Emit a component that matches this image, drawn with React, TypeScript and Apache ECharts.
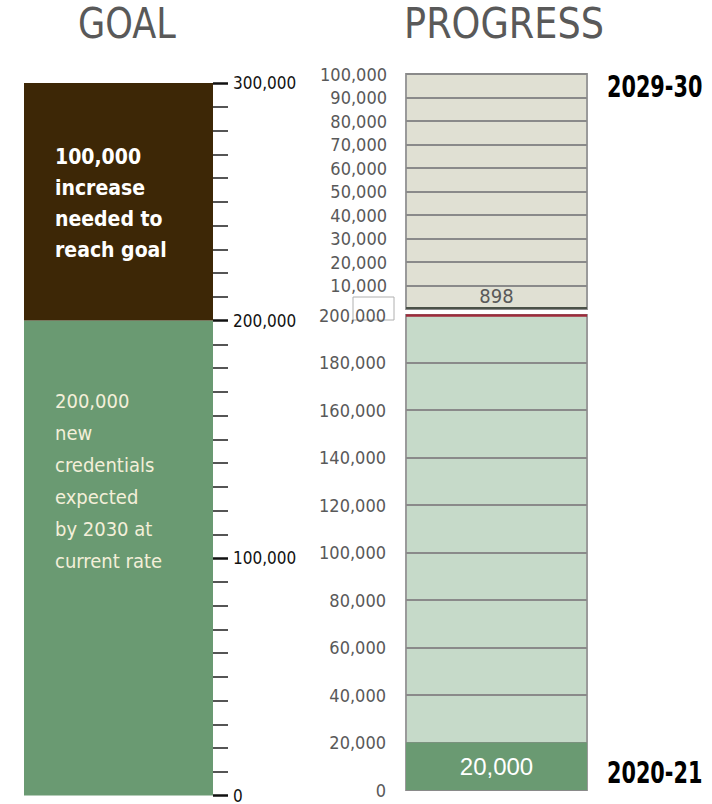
import React, { useEffect, useRef } from "react";
import * as echarts from "echarts";

// ---- data ----
const goalCategory = ["Goal"];
const expectedValues = [200000]; // new credentials expected by 2030 at current rate
const increaseValues = [100000]; // increase needed to reach goal
const progressCategory = ["Progress"];
const progressTopValues = [898];
const progressBottomValues = [20000];
const yearLabels = ["2029-30", "2020-21"];
const titles = ["GOAL", "PROGRESS"];

const COND = "'DejaVu Sans Condensed', 'DejaVu Sans', sans-serif";

const fmt = (v: number) => v.toLocaleString("en-US");

export default function App() {
  const ref = useRef<HTMLDivElement>(null);
  useEffect(() => {
    if (!ref.current) return;
    const chart = echarts.init(ref.current, undefined, { renderer: "svg" });
    const option: any = {
      animation: false,
      backgroundColor: "#ffffff",
      grid: [
        { left: 24, top: 83, width: 189, height: 715 },
        {
          left: 406, top: 74, width: 181, height: 235,
          show: true, backgroundColor: "#e0e0d3", borderColor: "#9a9a9a", borderWidth: 2,
        },
        {
          left: 406, top: 315, width: 181, height: 475,
          show: true, backgroundColor: "#c6dac9", borderColor: "#9a9a9a", borderWidth: 2,
        },
      ],
      xAxis: [
        { type: "category", gridIndex: 0, data: goalCategory, show: false },
        { type: "category", gridIndex: 1, data: progressCategory, show: false },
        { type: "category", gridIndex: 2, data: progressCategory, show: false },
      ],
      yAxis: [
        {
          type: "value", gridIndex: 0, position: "right", min: 0, max: 300000, interval: 100000,
          axisLine: { show: false },
          axisTick: { show: true, length: 15, lineStyle: { color: "#111", width: 2.5 } },
          minorTick: { show: true, splitNumber: 10, length: 15, lineStyle: { color: "#555", width: 2 } },
          splitLine: { show: false },
          axisLabel: {
            margin: 20, formatter: (v: number) => fmt(v), fontFamily: COND, fontSize: 17, color: "#111",
          },
        },
        {
          type: "value", gridIndex: 1, min: 0, max: 100000, interval: 10000,
          axisLine: { show: false }, axisTick: { show: false },
          splitLine: { show: true, lineStyle: { color: "#8a8a8a", width: 2 } },
          axisLabel: {
            margin: 19, showMinLabel: false, formatter: (v: number) => fmt(v),
            fontFamily: COND, fontSize: 18, color: "#595959",
          },
        },
        {
          type: "value", gridIndex: 2, min: 0, max: 200000, interval: 20000,
          axisLine: { show: false }, axisTick: { show: false },
          splitLine: { show: true, lineStyle: { color: "#8a8a8a", width: 2 } },
          axisLabel: {
            margin: 20, formatter: (v: number) => fmt(v),
            fontFamily: COND, fontSize: 18, color: "#595959",
          },
        },
      ],
      series: [
        {
          type: "bar", xAxisIndex: 0, yAxisIndex: 0, stack: "goal", barWidth: "100%",
          data: expectedValues,
          itemStyle: { color: "#6a9a72" },
          label: {
            show: true, position: [31, 64], align: "left", verticalAlign: "top",
            formatter: (p: any) => `${fmt(p.value)}\nnew\ncredentials\nexpected\nby 2030 at\ncurrent rate`,
            fontFamily: COND, fontSize: 20, lineHeight: 32, color: "#f3efd9",
          },
        },
        {
          type: "bar", xAxisIndex: 0, yAxisIndex: 0, stack: "goal", barWidth: "100%",
          data: increaseValues,
          itemStyle: { color: "#3d2706" },
          label: {
            show: true, position: [31, 58], align: "left", verticalAlign: "top",
            formatter: (p: any) => `${fmt(p.value)}\nincrease\nneeded to\nreach goal`,
            fontFamily: COND, fontWeight: "bold", fontSize: 21, lineHeight: 31, color: "#ffffff",
          },
        },
        {
          type: "bar", xAxisIndex: 1, yAxisIndex: 1, barWidth: "100%",
          data: progressTopValues,
          itemStyle: { color: "#4b5148" },
          label: {
            show: true, position: "top", distance: 1, formatter: (p: any) => fmt(p.value),
            fontFamily: COND, fontSize: 20, color: "#595959",
          },
        },
        {
          type: "bar", xAxisIndex: 2, yAxisIndex: 2, barWidth: "100%",
          data: progressBottomValues,
          itemStyle: { color: "#6a9a72" },
          label: {
            show: true, position: "inside", formatter: (p: any) => fmt(p.value),
            fontFamily: "'Liberation Sans', sans-serif", fontSize: 24, color: "#ffffff",
          },
          markLine: {
            silent: true, symbol: ["none", "none"], label: { show: false },
            lineStyle: { color: "#9e2a3a", width: 2.5, type: "solid" },
            data: [{ yAxis: 200000 }],
          },
        },
      ],
      graphic: [
        {
          type: "text", x: 127, y: 24, scaleX: 0.93,
          style: { text: titles[0], align: "center", verticalAlign: "middle", fontFamily: COND, fontSize: 42, fill: "#595959" },
        },
        {
          type: "text", x: 504, y: 24, scaleX: 0.97,
          style: { text: titles[1], align: "center", verticalAlign: "middle", fontFamily: COND, fontSize: 42, fill: "#595959" },
        },
        {
          type: "text", x: 607, y: 86, scaleX: 0.77,
          style: { text: yearLabels[0], align: "left", verticalAlign: "middle", fontFamily: COND, fontWeight: "bold", fontSize: 30, fill: "#000" },
        },
        {
          type: "text", x: 607, y: 772, scaleX: 0.77,
          style: { text: yearLabels[1], align: "left", verticalAlign: "middle", fontFamily: COND, fontWeight: "bold", fontSize: 30, fill: "#000" },
        },
        {
          type: "rect", shape: { x: 353, y: 297, width: 41, height: 23 },
          style: { fill: "none", stroke: "#b0b0b0", lineWidth: 1 },
        },
      ],
    };
    chart.setOption(option);
    return () => chart.dispose();
  }, []);
  return <div ref={ref} style={{ position: "fixed", left: 0, top: 0, width: 712, height: 804 }} />;
}
